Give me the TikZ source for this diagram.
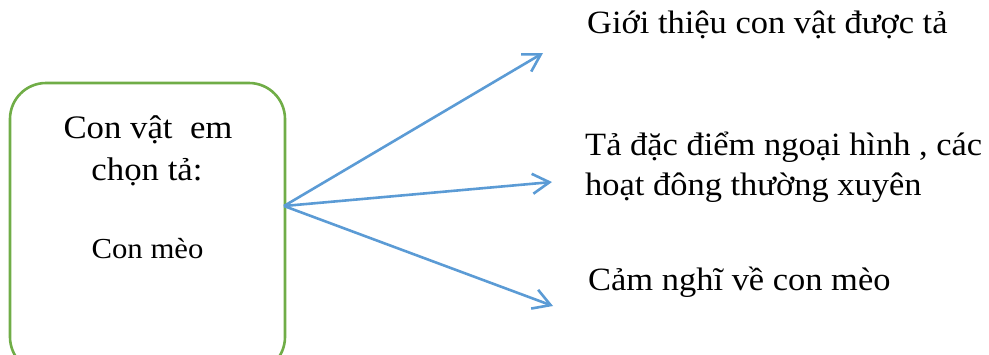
\documentclass[tikz,border=0pt]{standalone}
\usepackage{fontspec}
\setmainfont{Liberation Serif}[FakeStretch=1.06]
\usetikzlibrary{arrows.meta}
\definecolor{boxgreen}{HTML}{70AD47}
\definecolor{arrowblue}{HTML}{5B9BD5}
\tikzset{
  mainbox/.style={draw=boxgreen, line width=2.6pt, rounded corners=36pt, minimum width=275pt, minimum height=290pt, inner sep=0pt},
  boxtext/.style={anchor=base, inner sep=0pt, font=\fontsize{32.8}{40}\selectfont},
  boxsmall/.style={anchor=base, inner sep=0pt, font=\fontsize{29}{36}\selectfont},
  sidetext/.style={anchor=base west, inner sep=0pt, font=\fontsize{32.5}{40}\selectfont},
  link/.style={draw=arrowblue, line width=2.6pt, -{Straight Barb[length=17pt,width=20pt,line width=2.6pt]}}
}
\begin{document}
\begin{tikzpicture}[x=1pt,y=-1pt]
\clip (0,0) rectangle (989,354);
\node[mainbox] (box) at (147.5,228) {};
\node[boxtext] (b1) at (148,138) {Con vật\ \ em};
\node[boxtext] (b2) at (147,180) {chọn tả:};
\node[boxsmall] (b3) at (147.5,258) {Con mèo};
\coordinate (src) at (284,206);
\coordinate (e1) at (543,53);
\coordinate (e2) at (552,182);
\coordinate (e3) at (553,306);
\node[sidetext] (t1) at (587,33) {Giới thiệu con vật được tả};
\node[sidetext] (t2a) at (585,155) {Tả đặc điểm ngoại hình , các};
\node[sidetext] (t2b) at (585,195) {hoạt đông thường xuyên};
\node[sidetext] (t3) at (588,290) {Cảm nghĩ về con mèo};
\draw[link] (src) -- (e1);
\draw[link] (src) -- (e2);
\draw[link] (src) -- (e3);
\end{tikzpicture}
\end{document}
